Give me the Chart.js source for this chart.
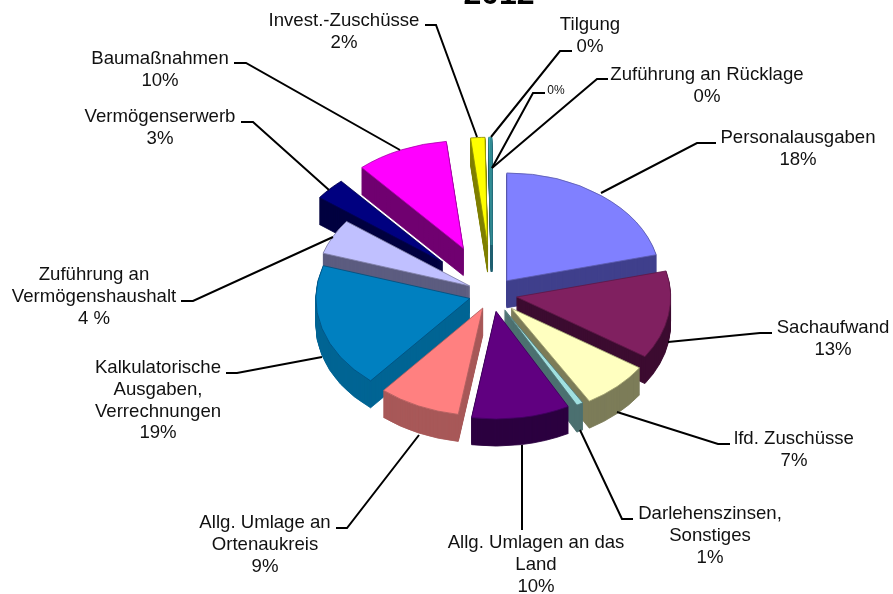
<!DOCTYPE html>
<html>
<head>
<meta charset="utf-8">
<style>
html, body { margin: 0; padding: 0; background: #fff; overflow: hidden; }
#wrap { position: relative; width: 893px; height: 594px; }
</style>
<script src="https://cdn.jsdelivr.net/npm/chart.js@4"></script>
</head>
<body>
<div id="wrap"><canvas id="pie"></canvas></div>
<script>
// The printed percentages do not add up and the 3D view widens the slices,
// so slice sizes are read off the picture and the printed text is kept apart.
const titleText = "2012";
const categories = [
    "Personalausgaben", "Sachaufwand", "lfd. Zuschüsse", "Darlehenszinsen, Sonstiges",
    "Allg. Umlagen an das Land", "Allg. Umlage an Ortenaukreis",
    "Kalkulatorische Ausgaben, Verrechnungen", "Zuführung an Vermögenshaushalt",
    "Vermögenserwerb", "Baumaßnahmen", "Invest.-Zuschüsse", "Tilgung",
    "Zuführung an Rücklage (klein)", "Zuführung an Rücklage"
];
const sliceShares = [21.1, 13.2, 7.2, 0.7, 10.3, 8.6, 18.75, 5.3, 3.3, 9.7, 1.5, 0.16, 0.05, 0.05];
const printedPercents = ["18%", "13%", "7%", "1%", "10%", "9%", "19%", "4 %", "3%", "10%", "2%", "0%", "0%", "0%"];

const topColors = ["#8080ff", "#802060", "#ffffc0", "#a0e0e0", "#600080", "#ff8080", "#0080c0",
    "#c0c0ff", "#000080", "#ff00ff", "#ffff00", "#40c0c8", "#40c0c8", "#40c0c8"];
const sideColors = ["#40408c", "#3c0c30", "#7c7c58", "#4c7070", "#2c0040", "#a85858", "#006494",
    "#5c5c80", "#000040", "#700070", "#808000", "#206070", "#206070", "#206070"];
const edgeColors = ["#5c5cb0", "#601848", "#a0a070", "#507878", "#400060", "#b06060", "#005080",
    "#8080a8", "#000050", "#b000b0", "#909000", "#308890", "#308890", "#308890"];
const explode = [24, 25, 28, 26, 25, 22, 23, 25, 67, 71, 70, 70, 70, 70];

const squash = 0.70;
const depth = 27;
const centerY = 294;
const gap = 21.8;

// text lines, text centre x, first baseline, then the leader line
const labelLayout = [
    { lines: ["Personalausgaben"], x: 798, y: 143, leader: [[716, 143], [697, 143], [601, 193]] },
    { lines: ["Sachaufwand"], x: 833, y: 333, leader: [[772, 333], [760, 333], [668, 342]] },
    { lines: ["lfd. Zuschüsse"], x: 794, y: 444, leader: [[730, 444], [718, 444], [617, 412]] },
    { lines: ["Darlehenszinsen,", "Sonstiges"], x: 710, y: 519, leader: [[633, 519], [622, 519], [580, 430]] },
    { lines: ["Allg. Umlagen an das", "Land"], x: 536, y: 548, leader: [[522, 530], [522, 445]] },
    { lines: ["Allg. Umlage an", "Ortenaukreis"], x: 265, y: 528, leader: [[336, 528], [347, 528], [419, 435]] },
    { lines: ["Kalkulatorische", "Ausgaben,", "Verrechnungen"], x: 158, y: 373, leader: [[226, 373], [237, 373], [322, 357]] },
    { lines: ["Zuführung an", "Vermögenshaushalt"], x: 94, y: 280, leader: [[181, 301], [193, 301], [333, 237]] },
    { lines: ["Vermögenserwerb"], x: 160, y: 122, leader: [[241, 122], [253, 122], [329, 190]] },
    { lines: ["Baumaßnahmen"], x: 160, y: 64, leader: [[234, 63], [246, 63], [400, 150]] },
    { lines: ["Invest.-Zuschüsse"], x: 344, y: 26, leader: [[425, 25], [436, 25], [477, 137]] },
    { lines: ["Tilgung"], x: 590, y: 30, leader: [[572, 51], [560, 51], [491, 137]] },
    { lines: [], x: 556, y: 94, small: true, leader: [[545, 93], [533, 93], [492, 168]] },
    { lines: ["Zuführung an Rücklage"], x: 707, y: 80, leader: [[608, 79], [597, 79], [492, 168]] }
];

// translate for a slice pulled out of the pie, along its own middle angle
function explodeShift(arc, i) {
    const mid = (arc.startAngle + arc.endAngle) / 2;
    return { x: Math.cos(mid) * explode[i], y: Math.sin(mid) * explode[i] };
}

const tiltedPie = {
    id: "tiltedPie",
    beforeDatasetDraw(chart) {
        const ctx = chart.ctx;
        const arcs = chart.getDatasetMeta(0).data;
        const order = arcs.map((a, i) => i).sort((a, b) => {
            const midA = (arcs[a].startAngle + arcs[a].endAngle) / 2;
            const midB = (arcs[b].startAngle + arcs[b].endAngle) / 2;
            return Math.sin(midA) - Math.sin(midB);
        });

        ctx.save();
        ctx.translate(0, centerY);
        ctx.scale(1, squash);
        ctx.translate(0, -centerY);

        // side walls first, back slices before front ones
        order.forEach(i => {
            const arc = arcs[i];
            const shift = explodeShift(arc, i);
            const base = arc.options;
            arc.options = Object.create(base);
            arc.options.backgroundColor = sideColors[i];
            arc.options.borderColor = sideColors[i];
            for (let d = depth; d > 0; d--) {
                ctx.save();
                ctx.translate(shift.x, shift.y + d / squash);
                arc.draw(ctx);
                ctx.restore();
            }
            arc.options = base;
        });

        // then the top faces
        order.forEach(i => {
            const shift = explodeShift(arcs[i], i);
            ctx.save();
            ctx.translate(shift.x, shift.y);
            arcs[i].draw(ctx);
            ctx.restore();
        });
        ctx.restore();
        return false;
    },
    afterDraw(chart) {
        const ctx = chart.ctx;
        ctx.save();
        ctx.fillStyle = "#000";
        ctx.font = "bold 32px 'Liberation Sans'";
        ctx.textAlign = "center";
        ctx.textBaseline = "alphabetic";
        ctx.fillText(titleText, 499, 4);

        ctx.fillStyle = "#111";
        ctx.strokeStyle = "#000";
        ctx.lineWidth = 2;
        labelLayout.forEach((l, i) => {
            ctx.beginPath();
            l.leader.forEach((p, n) => n ? ctx.lineTo(p[0], p[1]) : ctx.moveTo(p[0], p[1]));
            ctx.stroke();
            ctx.font = (l.small ? "12px" : "18.6px") + " 'Liberation Sans'";
            // the percent printed for each slice goes under its name
            l.lines.concat(printedPercents[i]).forEach((t, n) => ctx.fillText(t, l.x, l.y + n * gap));
        });
        ctx.restore();
    }
};

new Chart(document.getElementById("pie"), {
    type: "pie",
    data: {
        labels: categories,
        datasets: [{
            data: sliceShares,
            backgroundColor: topColors,
            borderColor: edgeColors,
            borderWidth: 1,
            radius: 154
        }]
    },
    options: {
        responsive: true,
        maintainAspectRatio: false,
        animation: false,
        layout: { padding: { left: 91, right: 0, top: 0, bottom: 6 } },
        plugins: { legend: { display: false }, tooltip: { enabled: false } }
    },
    plugins: [tiltedPie]
});
</script>
</body>
</html>
